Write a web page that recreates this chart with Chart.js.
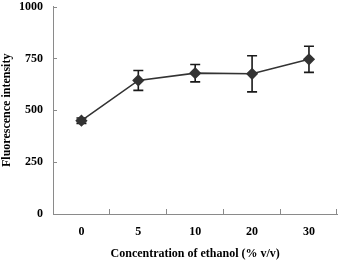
<!DOCTYPE html>
<html lang="en">
<head>
  <meta charset="UTF-8" />
  <title>Fluorescence vs ethanol</title>
  <script src="https://cdn.jsdelivr.net/npm/chart.js"></script>
  <style>
    body { margin: 0; background: white; }
    .box { width: 344px; height: 262px; }
  </style>
</head>
<body>
  <div class="box"><canvas id="chart" width="344" height="262"></canvas></div>

  <script>
    const categories = ['0', '5', '10', '20', '30'];
    const intensity = [450, 644, 679, 676, 746];
    const errors = [13, 48, 42, 87, 63];
    const yTicks = [0, 250, 500, 750, 1000];

    const axisGray = '#8a8a8a';
    const font = { family: 'Liberation Serif', size: 12, weight: 'bold' };

    // error bars + little inside tick marks
    const extras = {
      id: 'extras',
      beforeDatasetsDraw(chart) {
        const c = chart.ctx;
        const y = chart.scales.y;
        const meta = chart.getDatasetMeta(0);
        c.save();
        c.strokeStyle = '#1a1a1a';
        c.lineWidth = 1.6;
        meta.data.forEach((pt, i) => {
          const top = y.getPixelForValue(intensity[i] + errors[i]);
          const bot = y.getPixelForValue(intensity[i] - errors[i]);
          c.beginPath();
          c.moveTo(pt.x, top); c.lineTo(pt.x, bot);
          c.moveTo(pt.x - 5, top); c.lineTo(pt.x + 5, top);
          c.moveTo(pt.x - 5, bot); c.lineTo(pt.x + 5, bot);
          c.stroke();
        });
        c.restore();
      },
      afterDraw(chart) {
        const c = chart.ctx;
        const x = chart.scales.x, y = chart.scales.y;
        const a = chart.chartArea;
        c.save();
        c.strokeStyle = axisGray;
        c.lineWidth = 1;
        c.beginPath();
        const half = (x.getPixelForValue(1) - x.getPixelForValue(0)) / 2;
        categories.forEach((_, i) => {
          const px = Math.round(x.getPixelForValue(i) + half) - 0.5;
          c.moveTo(px, a.bottom); c.lineTo(px, a.bottom - 5);
        });
        yTicks.forEach(v => {
          const py = Math.round(y.getPixelForValue(v)) + 0.5;
          c.moveTo(a.left, py); c.lineTo(a.left + 4, py);
        });
        c.stroke();
        c.restore();
      }
    };

    new Chart(document.getElementById('chart'), {
      type: 'line',
      data: {
        labels: categories,
        datasets: [{
          data: intensity,
          borderColor: '#333',
          borderWidth: 1.6,
          pointStyle: 'rectRot',
          pointRadius: 5,
          pointBackgroundColor: '#333',
          pointBorderColor: '#333',
          tension: 0
        }]
      },
      options: {
        responsive: false,
        animation: false,
        layout: { padding: { top: 5, right: 1, left: 0, bottom: 0 } },
        plugins: { legend: { display: false }, tooltip: { enabled: false } },
        scales: {
          x: {
            offset: true,
            grid: { display: false, drawTicks: false },
            border: { display: true, color: axisGray, width: 1 },
            ticks: { color: '#000', font: font, padding: 11 },
            title: {
              display: true,
              text: 'Concentration of ethanol (% v/v)',
              color: '#000',
              font: font,
              padding: { top: 0, bottom: 1 }
            },
            afterFit(s) { s.height = 48; s.paddingLeft = 0; s.paddingRight = 0; }
          },
          y: {
            min: 0,
            max: 1000,
            afterBuildTicks(s) { s.ticks = yTicks.map(v => ({ value: v })); },
            grid: { display: false, drawTicks: false },
            border: { display: true, color: axisGray, width: 1 },
            ticks: { color: '#000', font: font, padding: 10, callback: v => String(v) },
            title: {
              display: true,
              text: 'Fluorescence intensity',
              color: '#000',
              font: font,
              padding: { top: 0, bottom: 1 }
            },
            afterFit(s) { s.width = 53; s.paddingTop = 0; s.paddingBottom = 0; }
          }
        }
      },
      plugins: [extras]
    });
  </script>
</body>
</html>
